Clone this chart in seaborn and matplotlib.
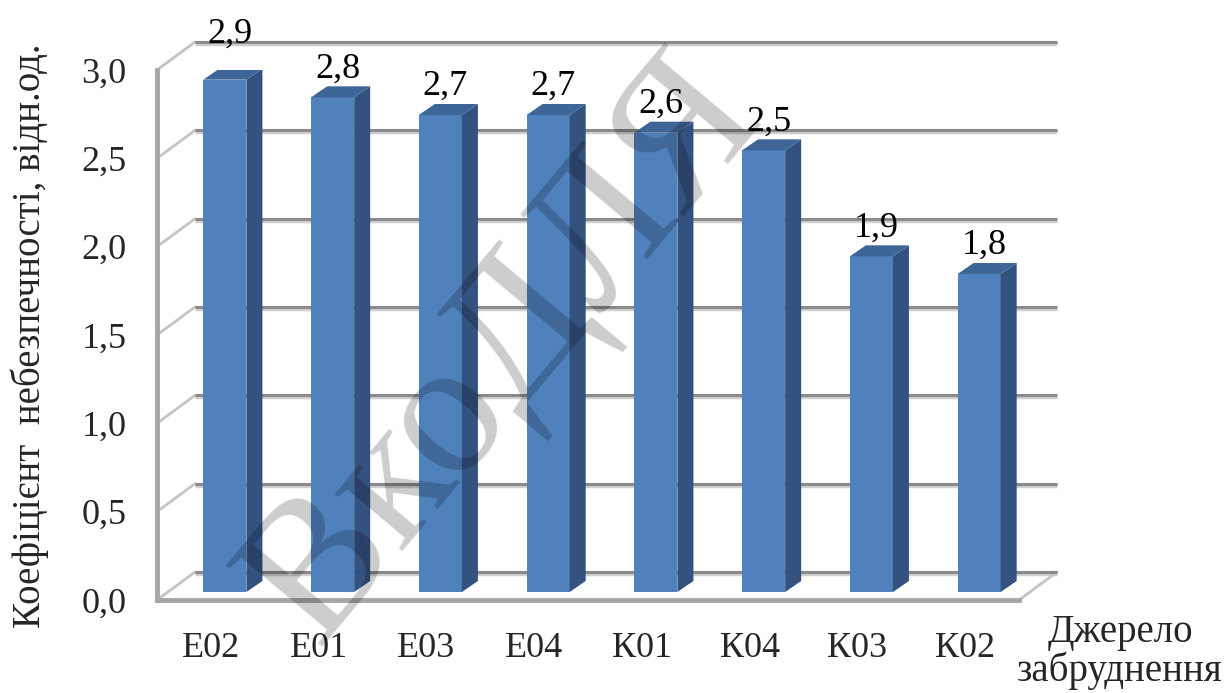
import numpy as np
import pandas as pd
import matplotlib
matplotlib.use("Agg")
import matplotlib.pyplot as plt
from matplotlib.patches import Polygon
import seaborn as sns

# ---- data ----
sources = ["Е02", "Е01", "Е03", "Е04", "К01", "К04", "К03", "К02"]
values = [2.9, 2.8, 2.7, 2.7, 2.6, 2.5, 1.9, 1.8]
y_ticks = [0.0, 0.5, 1.0, 1.5, 2.0, 2.5, 3.0]
y_title = "Коефіцієнт  небезпечності, відн.од."
x_title = "Джерело\nзабруднення"
stamp = "ВкоДЛЯ"

sns.set_style("white")
plt.rcParams["font.family"] = ["Liberation Serif", "DejaVu Serif"]

W, H = 1224, 693
FRONT = "#4f81bd"
SIDE = "#34527f"
TOP = "#3e6597"
GRID_DARK = "#8a8a8a"
GRID_LIGHT = "#cfcfcf"

fig = plt.figure(figsize=(W / 100, H / 100), dpi=100)
# front plane of the 3-D box: x -0.5..7.5, y 0..3
ax = fig.add_axes([157 / W, 93 / H, 862 / W, 530 / H])

df = pd.DataFrame({"source": sources, "value": values})
sns.barplot(data=df, x="source", y="value", color=FRONT, saturation=1,
            width=0.4, ax=ax, zorder=3)

ax.set_xlim(-0.5, len(sources) - 0.5)
ax.set_ylim(0, 3)

px_x = (len(sources)) / 862.0      # data units per pixel, x
px_y = 3.0 / 530.0                 # data units per pixel, y

# depth of the walls and of the bars
wall_dx, wall_dy = 38 * px_x, 28 * px_y
bar_dx, bar_dy = 16 * px_x, 11 * px_y
bar_shift, bar_base = 14 * px_x, 8 * px_y

x_left, x_right = -0.5, len(sources) - 0.5

# back wall gridlines, left wall and floor edges
for t in y_ticks:
    ax.plot([x_left + wall_dx, x_right + wall_dx], [t + wall_dy - 2 * px_y] * 2,
            color=GRID_LIGHT, lw=2.5, zorder=1, clip_on=False, solid_capstyle="butt")
    ax.plot([x_left + wall_dx, x_right + wall_dx], [t + wall_dy] * 2,
            color=GRID_DARK, lw=2.2, zorder=1.2, clip_on=False, solid_capstyle="butt")
    ax.plot([x_left, x_left + wall_dx], [t, t + wall_dy],
            color="#c4c4c4", lw=2.0, zorder=1, clip_on=False)
ax.plot([x_right, x_right + wall_dx], [0, wall_dy], color="#c4c4c4", lw=2.0,
        zorder=1, clip_on=False)

# give the bars a 3-D look: move the front faces back and add side and top faces
for p, v in zip(ax.patches, values):
    x0 = p.get_x() + bar_shift
    w = p.get_width()
    p.set_x(x0)
    p.set_y(bar_base)
    p.set_edgecolor("none")
    x1 = x0 + w
    top = bar_base + v
    ax.add_patch(Polygon([(x1, bar_base), (x1 + bar_dx, bar_base + bar_dy),
                          (x1 + bar_dx, top + bar_dy), (x1, top)],
                         closed=True, facecolor=SIDE, edgecolor="none", zorder=3))
    ax.add_patch(Polygon([(x0, top), (x1, top), (x1 + bar_dx, top + bar_dy),
                          (x0 + bar_dx, top + bar_dy)],
                         closed=True, facecolor=TOP, edgecolor="none", zorder=3))

# value labels
label_gap = 20 * px_y
label_lift = {0: 17 * px_y}
for i, (p, v) in enumerate(zip(ax.patches, values)):
    cx = p.get_x() + p.get_width() / 2 + 5 * px_x
    ax.text(cx, bar_base + v + label_gap + label_lift.get(i, 0),
            f"{v:.1f}".replace(".", ","), ha="center", va="baseline",
            fontsize=26, color="black", zorder=5, clip_on=False)

# axes frame
for side in ("top", "right"):
    ax.spines[side].set_visible(False)
for side in ("left", "bottom"):
    ax.spines[side].set_color("#a6a6a6")
    ax.spines[side].set_linewidth(3.5)

ax.set_yticks(y_ticks)
ax.set_yticklabels([f"{t:.1f}".replace(".", ",") for t in y_ticks], fontsize=26)
ax.tick_params(axis="y", length=7, width=1.5, color="#7f7f7f", pad=15, direction="out")

ax.set_xticks(np.arange(x_left, x_right + 0.01, 1.0))
ax.set_xticklabels([])
ax.set_xticks(np.arange(len(sources)), minor=True)
ax.set_xticklabels(sources, minor=True, fontsize=26)
ax.tick_params(axis="x", which="major", length=7, width=1.5, color="#7f7f7f", direction="out")
ax.tick_params(axis="x", which="minor", length=0, pad=23)
ax.set_xlabel("")
ax.set_ylabel("")
ax.grid(False)

fig.text(30 / W, 1 - 336 / H, y_title, rotation=90, ha="center", va="center",
         fontsize=28)
fig.text(1120 / W, 1 - 652 / H, x_title, ha="center", va="center",
         fontsize=28, linespacing=1.0)

# diagonal stamp across the plot
fig.text(505 / W, 1 - 350 / H, stamp, rotation=50, ha="center", va="center",
         fontsize=138, color="black", alpha=0.2, zorder=10)

fig.savefig("out.png", dpi=100)
